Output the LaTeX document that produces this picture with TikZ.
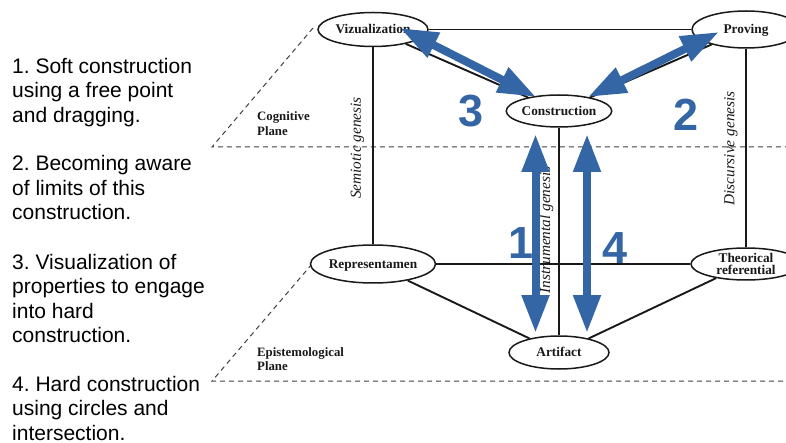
\documentclass[tikz,border=0pt]{standalone}
\usepackage{fontspec}
\setmainfont{Liberation Serif}
\newfontfamily\lsans{Liberation Sans}
\usetikzlibrary{shapes.geometric,arrows.meta}
\definecolor{ablue}{RGB}{52,101,164}
\definecolor{ink}{RGB}{25,25,25}
\frenchspacing
\begin{document}
\begin{tikzpicture}[x=1pt,y=-1pt,
  ellbase/.style={draw=ink, line width=1.5pt, fill=white, ellipse, inner sep=0pt,
    font=\fontsize{13.3}{12.3}\selectfont\bfseries, text=ink},
  ell/.style={ellbase, text height=8.8pt, text depth=0pt},
  link/.style={draw=ink, line width=1.9pt},
  plane/.style={draw=black!75, line width=1pt, dash pattern=on 5pt off 4pt},
  planelbl/.style={font=\fontsize{12.8}{14.2}\selectfont\bfseries, text=ink, align=left, anchor=north west, inner sep=0pt},
  genesis/.style={font=\fontsize{15.3}{15}\selectfont\itshape, text=ink, rotate=90, inner sep=0pt},
  bigarrow/.style={draw=ablue, line width=8pt, {Triangle[length=38pt,width=26pt]}-{Triangle[length=38pt,width=26pt]}},
  num/.style={font=\lsans\fontsize{45}{45}\selectfont\bfseries, text=ablue, inner sep=0pt},
  note/.style={font=\lsans\fontsize{21}{24.4}\selectfont, text=black, align=left, anchor=north west, inner sep=0pt}
]
\useasboundingbox (0,0) rectangle (786,443);

% planes
\coordinate (c1) at (212,147);
\coordinate (c2) at (313,28);
\coordinate (c3) at (786,147);
\coordinate (e1) at (212,381);
\coordinate (e2) at (312,264);
\coordinate (e3) at (786,381);
\draw[plane] (c2) -- (c1) -- (c3);
\draw[plane] (e2) -- (e1) -- (e3);

\node[planelbl] (cogl) at (257,110.7) {\rule{0pt}{10pt}Cognitive\\Plane};
\node[planelbl] (epil) at (257,346) {\rule{0pt}{10pt}Epistemological\\Plane};

% nodes
\node[ell, minimum width=110pt, minimum height=34pt] (viz) at (373,29.5) {Vizualization};
\node[ell, minimum width=108pt, minimum height=37pt] (prov) at (746,29.5) {Proving};
\node[ell, minimum width=103pt, minimum height=32pt] (cons) at (559,111) {Construction};
\node[ell, minimum width=108pt, minimum height=38pt] (rep) at (373,264) {Representamen};
\node[ellbase, align=center, minimum width=110pt, minimum height=32pt] (theo) at (746,264) {Theorical\\referential};
\node[ell, minimum width=100pt, minimum height=33pt] (art) at (559,352.5) {Artifact};

% connectors
\draw[link] (viz) -- (prov);
\draw[link] (viz) -- (rep);
\draw[link] (prov) -- (theo);
\draw[link] (rep) -- (theo);
\draw[link] (cons) -- (art);
\draw[link] (viz) -- (cons);
\draw[link] (cons) -- (prov);
\draw[link] (rep) -- (art);
\draw[link] (art) -- (theo);

% genesis labels
\node[genesis] (semg) at (357.5,148) {Semiotic genesis};
\node[genesis] (insg) at (546.5,230) {Instrumental genesis};
\node[genesis] (disg) at (731,148.5) {Discursive genesis};

% blue arrows
\coordinate (a3s) at (400,28);
\coordinate (a3e) at (536,97);
\coordinate (a2s) at (588,97);
\coordinate (a2e) at (719,32);
\coordinate (a1s) at (535.5,134);
\coordinate (a1e) at (535.5,333);
\coordinate (a4s) at (587,134);
\coordinate (a4e) at (587,333);
\draw[bigarrow] (a3s) -- (a3e);
\draw[bigarrow] (a2s) -- (a2e);
\draw[bigarrow] (a1s) -- (a1e);
\draw[bigarrow] (a4s) -- (a4e);

\node[num] (n3) at (471,111) {3};
\node[num] (n2) at (686,115) {2};
\node[num] (n1) at (521,243) {1};
\node[num] (n4) at (615,248) {4};

% notes
\node[note] (p1) at (12,57.3) {\rule{0pt}{16pt}1. Soft construction\\using a free point\\and dragging.};
\node[note] (p2) at (12,154.7) {\rule{0pt}{16pt}2. Becoming aware\\of limits of this\\construction.};
\node[note] (p3) at (12,253.3) {\rule{0pt}{16pt}3. Visualization of\\properties to engage\\into hard\\construction.};
\node[note] (p4) at (12,375) {\rule{0pt}{16pt}4. Hard construction\\using circles and\\intersection.};
\end{tikzpicture}
\end{document}
